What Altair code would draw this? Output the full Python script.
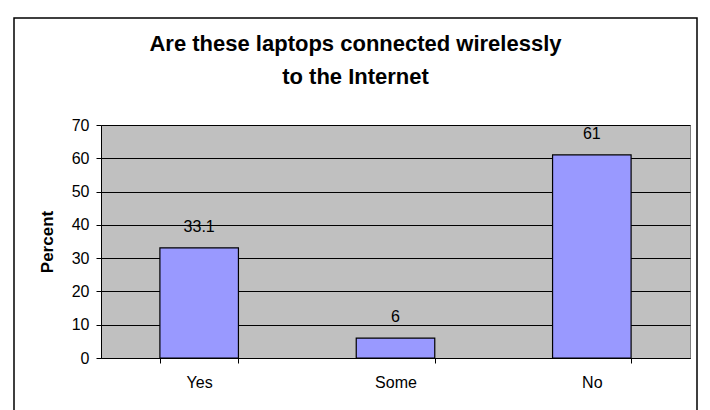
import altair as alt
import pandas as pd

categories = ["Yes", "Some", "No"]
values = [33.1, 6, 61]
labels = ["33.1", "6", "61"]

df = pd.DataFrame({"cat": categories, "val": values, "lab": labels})

FONT = "Liberation Sans"

x_enc = alt.X("cat:N", sort=categories, title=None,
              scale=alt.Scale(paddingInner=0.6, paddingOuter=0.3),
              axis=alt.Axis(labelAngle=0, labelFontSize=16, labelFont=FONT, labelColor="black",
                            labelPadding=11, tickBand="extent", tickSize=5, tickColor="black",
                            domainColor="black", grid=False))
y_enc = alt.Y("val:Q", title="Percent",
              scale=alt.Scale(domain=[0, 70], nice=False),
              axis=alt.Axis(values=[0, 10, 20, 30, 40, 50, 60, 70], labelFontSize=16, labelFont=FONT,
                            labelColor="black", labelPadding=7, tickSize=5, tickColor="black",
                            domainColor="black", gridColor="black", gridWidth=1, gridOpacity=1,
                            titleFont=FONT, titleFontSize=17, titleFontWeight="bold",
                            titleColor="black", titlePadding=15))

base = alt.Chart(df).encode(x=x_enc, y=y_enc)

bars = base.mark_bar(color="#9999FF", stroke="black", strokeWidth=1.2)

text = base.mark_text(baseline="bottom", dy=-13, fontSize=16, font=FONT, color="black").encode(
    text="lab:N")

frame = alt.Chart(alt.Data(values=[{}])).mark_rect(
    fill="transparent", stroke="black", strokeWidth=1.5, clip=False
).encode(x=alt.value(-87), x2=alt.value(596), y=alt.value(-107), y2=alt.value(300))

chart = alt.layer(bars, text, frame).properties(
    width=589, height=233,
    autosize=alt.AutoSizeParams(type="none"),
    padding={"left": 101, "top": 125, "right": 20, "bottom": 52},
    title=alt.TitleParams(["Are these laptops connected wirelessly", "to the Internet"],
                          font=FONT, fontSize=22, fontWeight="bold", color="black",
                          anchor="middle", frame="group", dx=-40, offset=-72, lineHeight=33),
    background="white",
).configure_view(fill="#C0C0C0", stroke="#808080")

chart.save("out.html", embed_options={"renderer": "svg", "actions": False})
